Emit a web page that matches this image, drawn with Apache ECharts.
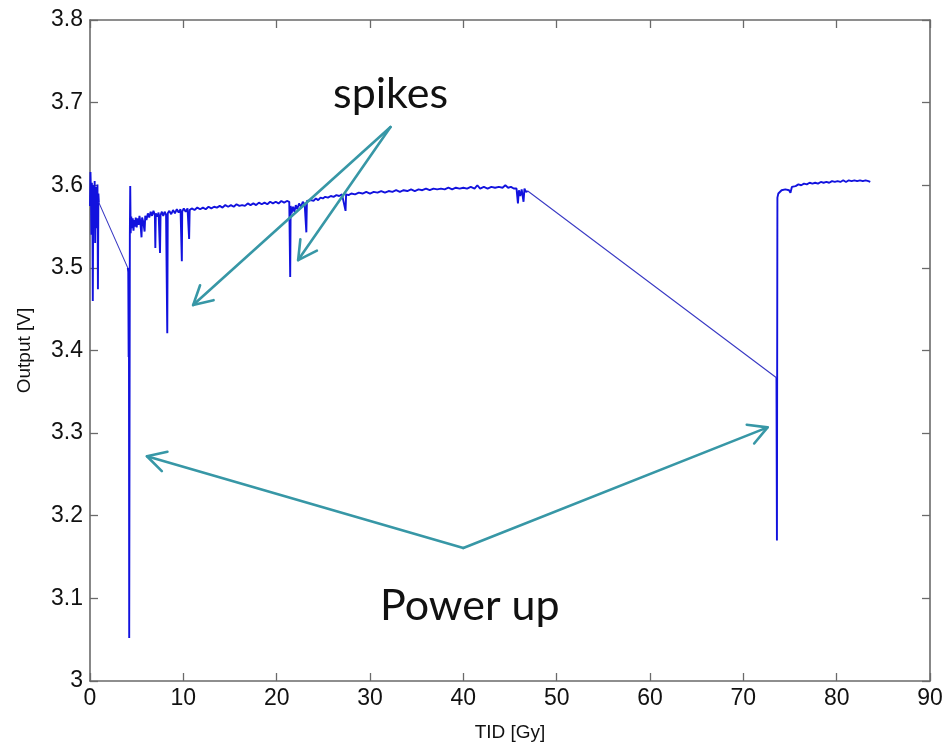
<!DOCTYPE html>
<html>
<head>
<meta charset="utf-8">
<title>Output vs TID</title>
<script src="https://cdn.jsdelivr.net/npm/echarts@6/dist/echarts.min.js"></script>
<style>
  html, body { margin: 0; padding: 0; background: #ffffff; }
  #chart { width: 944px; height: 744px; }
</style>
</head>
<body>
<div id="chart"></div>
<script>
// Total ionising dose (Gy) at each sample
const tid = [
  0.00, 0.05, 0.10, 0.15, 0.20, 0.25, 0.30, 0.35, 0.40, 0.45,
  0.50, 0.55, 0.60, 0.65, 0.70, 0.75, 0.80, 0.85, 0.90, 0.95,
  4.05, 4.10, 4.14, 4.17, 4.20, 4.24, 4.27, 4.31, 4.36, 4.42,
  4.50, 4.58, 4.66, 4.74, 4.82, 4.90, 5.00, 5.10, 5.20, 5.30,
  5.40, 5.52, 5.58, 5.70, 5.85, 5.92, 6.05, 6.20, 6.35, 6.50,
  6.65, 6.80, 6.95, 7.00, 7.05, 7.20, 7.35, 7.50, 7.56, 7.70,
  7.85, 8.00, 8.15, 8.28, 8.33, 8.50, 8.70, 8.90, 9.10, 9.30,
  9.50, 9.70, 9.84, 9.88, 10.05, 10.25, 10.45, 10.62, 10.68, 10.90,
  11.20, 11.50, 11.80, 12.10, 12.40, 12.70, 13.00, 13.30, 13.60, 13.90,
  14.20, 14.50, 14.80, 15.10, 15.40, 15.70, 16.00, 16.30, 16.60, 16.90,
  17.20, 17.50, 17.80, 18.10, 18.40, 18.70, 19.00, 19.30, 19.60, 19.90,
  20.20, 20.50, 20.80, 21.10, 21.35, 21.45, 21.50, 21.60, 21.75, 21.90,
  22.05, 22.20, 22.40, 22.60, 22.80, 23.00, 23.18, 23.24, 23.45, 23.70,
  23.95, 24.20, 24.45, 24.70, 24.95, 25.20, 25.50, 25.80, 26.10, 26.40,
  26.70, 27.00, 27.38, 27.44, 27.70, 28.00, 28.40, 28.80, 29.20, 29.60,
  30.00, 30.40, 30.80, 31.20, 31.60, 32.00, 32.40, 32.80, 33.20, 33.60,
  34.00, 34.40, 34.80, 35.20, 35.60, 36.00, 36.40, 36.80, 37.20, 37.60,
  38.00, 38.40, 38.80, 39.20, 39.60, 40.00, 40.40, 40.80, 41.20, 41.50,
  41.80, 42.20, 42.60, 43.00, 43.40, 43.80, 44.20, 44.50, 44.80, 45.10,
  45.40, 45.70, 45.85, 45.95, 46.10, 46.25, 46.45, 46.55, 46.70, 46.90,
  73.55, 73.60, 73.65, 73.75, 73.90, 74.10, 74.30, 74.50, 74.70, 74.90,
  75.05, 75.20, 75.40, 75.60, 75.90, 76.20, 76.50, 76.80, 77.10, 77.40,
  77.70, 78.00, 78.30, 78.60, 78.90, 79.20, 79.50, 79.80, 80.10, 80.40,
  80.70, 81.00, 81.30, 81.60, 81.90, 82.20, 82.50, 82.80, 83.10, 83.40,
  83.60
];

// Regulator output (V) for each sample above
const outputV = [
  3.575, 3.616, 3.592, 3.540, 3.603, 3.585, 3.460, 3.600, 3.596, 3.552,
  3.605, 3.530, 3.598, 3.590, 3.593, 3.548, 3.601, 3.474, 3.590, 3.579,
  3.500, 3.495, 3.392, 3.480, 3.052, 3.330, 3.540, 3.599, 3.542, 3.562,
  3.548, 3.560, 3.545, 3.558, 3.550, 3.561, 3.549, 3.560, 3.552, 3.563,
  3.555, 3.537, 3.561, 3.556, 3.544, 3.563, 3.558, 3.566, 3.561, 3.568,
  3.563, 3.569, 3.564, 3.524, 3.566, 3.562, 3.567, 3.518, 3.564, 3.568,
  3.563, 3.568, 3.564, 3.421, 3.566, 3.569, 3.565, 3.570, 3.566, 3.571,
  3.567, 3.571, 3.508, 3.568, 3.572, 3.568, 3.572, 3.535, 3.570, 3.572,
  3.570, 3.573, 3.571, 3.573, 3.571, 3.574, 3.572, 3.574, 3.573, 3.575,
  3.573, 3.576, 3.574, 3.576, 3.574, 3.577, 3.575, 3.576, 3.575, 3.578,
  3.576, 3.578, 3.576, 3.579, 3.577, 3.579, 3.577, 3.580, 3.578, 3.580,
  3.578, 3.581, 3.579, 3.581, 3.580, 3.489, 3.575, 3.566, 3.574, 3.568,
  3.576, 3.571, 3.578, 3.574, 3.580, 3.577, 3.543, 3.581, 3.579, 3.582,
  3.581, 3.584, 3.582, 3.585, 3.584, 3.586, 3.585, 3.587, 3.586, 3.588,
  3.587, 3.589, 3.569, 3.589, 3.588, 3.590, 3.589, 3.591, 3.590, 3.592,
  3.590, 3.592, 3.591, 3.593, 3.591, 3.593, 3.592, 3.594, 3.592, 3.594,
  3.593, 3.595, 3.593, 3.595, 3.594, 3.596, 3.594, 3.596, 3.595, 3.596,
  3.595, 3.597, 3.595, 3.597, 3.596, 3.597, 3.596, 3.598, 3.596, 3.600,
  3.596, 3.598, 3.596, 3.598, 3.597, 3.598, 3.597, 3.600, 3.597, 3.598,
  3.596, 3.596, 3.578, 3.594, 3.587, 3.595, 3.580, 3.596, 3.592, 3.593,
  3.367, 3.170, 3.585, 3.590, 3.592, 3.594, 3.592, 3.595, 3.593, 3.594,
  3.591, 3.598, 3.600, 3.599, 3.601, 3.600, 3.602, 3.601, 3.603, 3.602,
  3.603, 3.602, 3.604, 3.603, 3.604, 3.603, 3.605, 3.604, 3.605, 3.604,
  3.606, 3.604, 3.606, 3.605, 3.606, 3.605, 3.606, 3.605, 3.606, 3.605,
  3.604
];

// Axis ranges and tick steps
const xTicks = { min: 0, max: 90, step: 10 };
const yTicks = { min: 3.0, max: 3.8, step: 0.1 };

// Dose gap (Gy) beyond which consecutive samples belong to separate runs
const RUN_GAP = 2;

// Callout labels and arrows, anchored in data coordinates [TID, V]
const callouts = [
  { text: 'spikes', at: [32.2, 3.710], from: [32.2, 3.6705], tips: [[11.05, 3.455], [22.3, 3.5094]] },
  { text: 'Power up', at: [40.7, 3.0906], from: [40.0, 3.161], tips: [[6.1, 3.272], [72.6, 3.307]] }
];

// Split the record into measured runs (dense trace) and the straight joins between runs
const runData = [];
const joinData = [];
tid.forEach((x, i) => {
  if (i > 0 && x - tid[i - 1] > RUN_GAP) {
    runData.push([(x + tid[i - 1]) / 2, '-']);
    joinData.push([tid[i - 1], outputV[i - 1]], [x, outputV[i]], [x, '-']);
  }
  runData.push([x, outputV[i]]);
});

const chart = echarts.init(document.getElementById('chart'));

const AXIS_GREY = '#6a6a6a';
const LABEL_FONT = 'Liberation Sans, Arial, sans-serif';
const CALLOUT_FONT = 'Lato, "Open Sans", sans-serif';
const TEAL = '#3797a6';

function boxAxis(base, showLabels, position) {
  return Object.assign({
    type: 'value',
    position: position,
    splitLine: { show: false },
    axisLine: { show: true, onZero: false, lineStyle: { color: AXIS_GREY, width: 1.6 } },
    axisTick: { show: true, inside: true, length: 8, lineStyle: { color: AXIS_GREY, width: 1.3 } },
    axisLabel: { show: showLabels }
  }, base);
}

const xBase = { min: xTicks.min, max: xTicks.max, interval: xTicks.step };
const yBase = { min: yTicks.min, max: yTicks.max, interval: yTicks.step };

const xBottom = boxAxis(xBase, true, 'bottom');
xBottom.axisLabel = { show: true, color: '#111', fontFamily: LABEL_FONT, fontSize: 23, margin: 6 };
xBottom.name = 'TID [Gy]';
xBottom.nameLocation = 'middle';
xBottom.nameGap = 42;
xBottom.nameTextStyle = { color: '#111', fontFamily: LABEL_FONT, fontSize: 19 };

const yLeft = boxAxis(yBase, true, 'left');
yLeft.axisLabel = {
  show: true, color: '#111', fontFamily: LABEL_FONT, fontSize: 23, margin: 7,
  formatter: v => (Math.abs(v - 3) < 1e-9 ? '3' : v.toFixed(1))
};
yLeft.name = 'Output [V]';
yLeft.nameLocation = 'middle';
yLeft.nameGap = 56;
yLeft.nameTextStyle = { color: '#111', fontFamily: LABEL_FONT, fontSize: 19 };

chart.setOption({
  animation: false,
  backgroundColor: '#ffffff',
  grid: { left: 90, right: 14, top: 20, bottom: 63, containLabel: false, outerBoundsMode: 'none' },
  xAxis: [xBottom, boxAxis(xBase, false, 'top')],
  yAxis: [yLeft, boxAxis(yBase, false, 'right')],
  series: [{
    name: 'runs',
    type: 'line',
    data: runData,
    connectNulls: false,
    showSymbol: false,
    symbol: 'none',
    lineStyle: { color: '#1212de', width: 1.9 },
    z: 3
  }, {
    name: 'joins',
    type: 'line',
    data: joinData,
    connectNulls: false,
    showSymbol: false,
    symbol: 'none',
    lineStyle: { color: '#3a3ac4', width: 1.1 },
    z: 2
  }]
});

// Callout graphics: text plus open-headed arrows, placed through the grid's scale
function toPx(p) { return chart.convertToPixel({ gridIndex: 0 }, p); }

function arrow(a, b) {
  const ang = Math.atan2(b[1] - a[1], b[0] - a[0]);
  const len = 21, spread = 0.5;
  const w1 = [b[0] - len * Math.cos(ang - spread), b[1] - len * Math.sin(ang - spread)];
  const w2 = [b[0] - len * Math.cos(ang + spread), b[1] - len * Math.sin(ang + spread)];
  const style = { stroke: TEAL, lineWidth: 2.6, fill: null, lineCap: 'round', lineJoin: 'round' };
  return [
    { type: 'polyline', shape: { points: [a, b] }, style: style, z: 10 },
    { type: 'polyline', shape: { points: [w1, b, w2] }, style: style, z: 10 }
  ];
}

const graphics = [];
callouts.forEach(c => {
  const from = toPx(c.from);
  c.tips.forEach(t => { graphics.push(...arrow(from, toPx(t))); });
  const at = toPx(c.at);
  graphics.push({
    type: 'text', x: at[0], y: at[1], z: 11,
    style: { text: c.text, fill: '#111', fontFamily: CALLOUT_FONT, fontSize: 43, align: 'center', verticalAlign: 'middle' }
  });
});
chart.setOption({ graphic: graphics });
</script>
</body>
</html>
